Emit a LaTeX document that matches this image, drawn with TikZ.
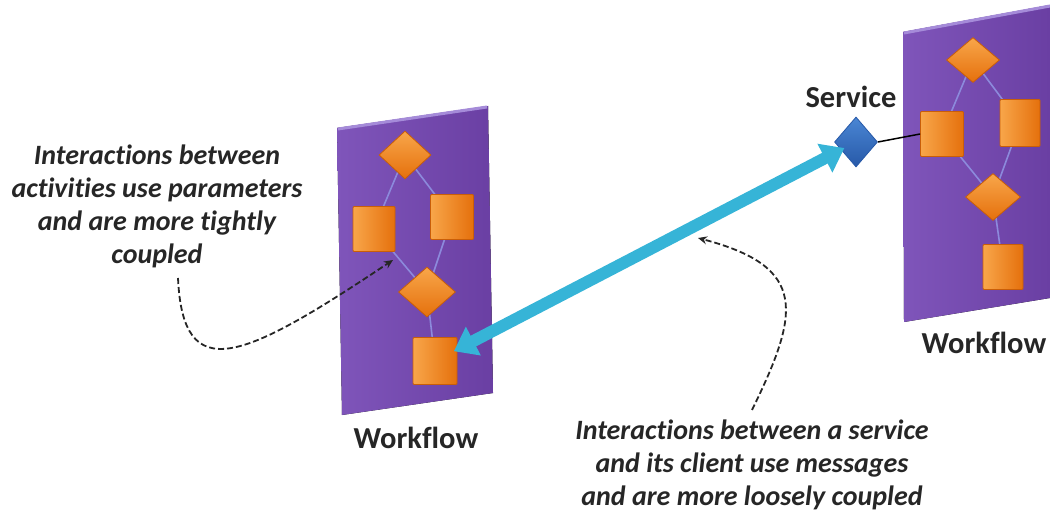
\documentclass[tikz,border=0pt]{standalone}
\usepackage{fontspec}
\setmainfont{Carlito}[Ligatures={NoCommon}]
\usetikzlibrary{shapes.geometric,arrows.meta,calc}
\pgfdeclarelayer{bg}
\pgfdeclarelayer{mid}
\pgfsetlayers{bg,mid,main}
\definecolor{panL}{HTML}{7F55BA}
\definecolor{panR}{HTML}{6A3FA3}
\definecolor{panEdge}{HTML}{A58BD9}
\definecolor{flowC}{HTML}{8C8ADC}
\definecolor{orL}{HTML}{F8A64A}
\definecolor{orR}{HTML}{E5700C}
\definecolor{orEdge}{HTML}{C95E08}
\definecolor{bluT}{HTML}{4A86D4}
\definecolor{bluB}{HTML}{2759A8}
\definecolor{cyanC}{HTML}{36B4D7}
\begin{document}
\begin{tikzpicture}[x=1pt,y=1pt,
  orsq/.style={rectangle, inner sep=0pt, left color=orL, right color=orR, draw=orEdge, line width=0.8pt, rounded corners=1pt},
  ordia/.style={diamond, inner sep=0pt, top color=orL, bottom color=orR, draw=orEdge, line width=0.8pt},
  svcdia/.style={diamond, inner sep=0pt, top color=bluT, bottom color=bluB, draw=bluB, line width=0.8pt, minimum width=43pt, minimum height=50pt},
  flow/.style={draw=flowC, line width=1.6pt},
  panel/.style={left color=panL, right color=panR},
  lbl/.style={font=\fontsize{30.5}{36}\selectfont\bfseries, text=black!85, inner sep=0pt},
  note/.style={font=\fontsize{28}{33}\selectfont\bfseries\itshape, text=black!85, align=center, inner sep=0pt},
  dasharrow/.style={draw=black!85, line width=1.8pt, dash pattern=on 6pt off 3pt, -{Stealth[length=9pt,width=8pt]}},
  bigarrow/.style={draw=cyanC, line width=12pt, arrows={Triangle[length=22pt,width=31pt]-Triangle[length=22pt,width=31pt]}, shorten <=-4pt, shorten >=-4pt}
]
\useasboundingbox (0,0) rectangle (1050,512);

% panels
\begin{pgfonlayer}{bg}
  \fill[panel] (337,384) -- (488,406) -- (493,119) -- (342,97) -- cycle;
  \draw[panEdge, line width=3pt] (338,383) -- (487,405);
  \fill[panel] (903,480) -- (1050,507) -- (1050,214) -- (904,190) -- cycle;
  \draw[panEdge, line width=3pt] (904,479) -- (1050,506);
\end{pgfonlayer}

% left workflow
\node[ordia, minimum width=52pt, minimum height=48pt] (ld1) at (405,357) {};
\node[orsq, minimum width=42pt, minimum height=45pt] (ls1) at (374,283) {};
\node[orsq, minimum width=43pt, minimum height=45pt] (ls2) at (452,295) {};
\node[ordia, minimum width=57pt, minimum height=50pt] (ld2) at (427,220) {};
\node[orsq, minimum width=44pt, minimum height=47pt] (ls3) at (435,151) {};

% right workflow
\node[ordia, minimum width=53pt, minimum height=45pt] (rd1) at (973,452) {};
\node[orsq, minimum width=43pt, minimum height=45pt] (rs1) at (942,378) {};
\node[orsq, minimum width=40pt, minimum height=47pt] (rs2) at (1020,389) {};
\node[ordia, minimum width=55pt, minimum height=47pt] (rd2) at (993,315) {};
\node[orsq, minimum width=40pt, minimum height=45pt] (rs3) at (1003,245) {};

\begin{pgfonlayer}{mid}
  \draw[flow] (ld1.center) -- (ls1.center);
  \draw[flow] (ld1.center) -- (ls2.center);
  \draw[flow] (ls1.center) -- (ld2.center);
  \draw[flow] (ls2.center) -- (ld2.center);
  \draw[flow] (ld2.center) -- (ls3.center);
  \draw[flow] (rd1.center) -- (rs1.center);
  \draw[flow] (rd1.center) -- (rs2.center);
  \draw[flow] (rs1.center) -- (rd2.center);
  \draw[flow] (rs2.center) -- (rd2.center);
  \draw[flow] (rd2.center) -- (rs3.center);
\end{pgfonlayer}

% service
\node[svcdia] (svc) at (856,370) {};
\node[lbl] (svct) at (851,415) {Service};
\draw[black, line width=1.5pt] (svc.east) -- (rs1.west);

% labels
\node[lbl] (wfl) at (416,74) {Workflow};
\node[lbl] (wfr) at (984,169) {Workflow};

% big message arrow
\draw[bigarrow] (ls3) -- (svc);

% notes
\node[note] (n1) at (157,306) {Interactions between\\activities use parameters\\and are more tightly\\coupled};
\node[note, anchor=south] (n2) at (752,1.5) {Interactions between a service\\and its client use messages\\and are more loosely coupled};

\coordinate (c1) at (393,252);
\coordinate (c2) at (698,274);
\coordinate (s1) at (178,234);
\coordinate (s2) at (752,102);
\draw[dasharrow] (s1) .. controls +(5,-110) and +(-150,-100) .. (c1);
\draw[dasharrow] (s2) .. controls (800,200) and (808,245) .. (c2);
\end{tikzpicture}
\end{document}
